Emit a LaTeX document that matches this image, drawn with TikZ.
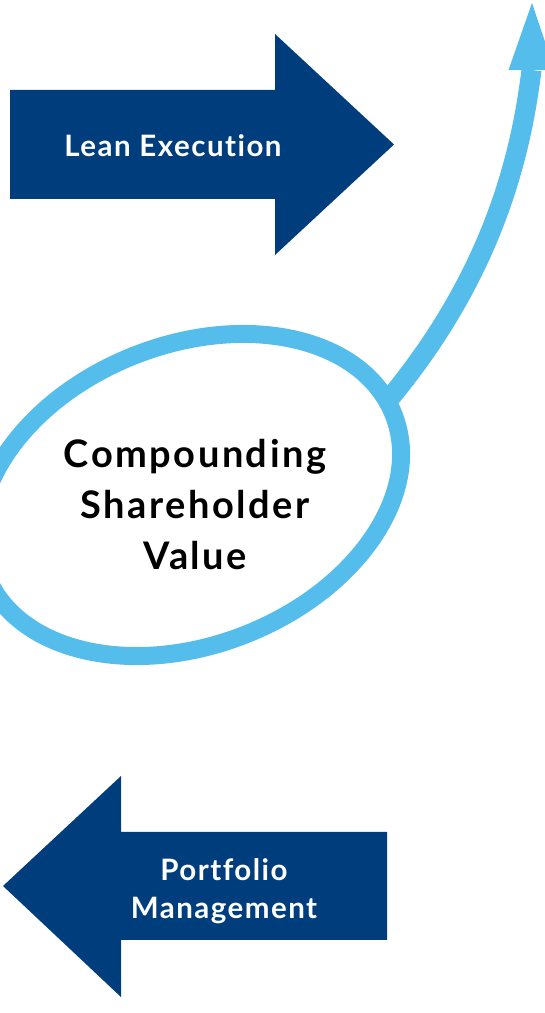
\documentclass[tikz,border=0pt]{standalone}
\usepackage{fontspec}
\setmainfont{Lato}[Ligatures=NoCommon]
\newfontfamily\labelfont{Lato}[Ligatures=NoCommon,LetterSpace=5]
\newfontfamily\corefont{Lato}[Ligatures=NoCommon,LetterSpace=6.5]
\usetikzlibrary{shapes.geometric}
\definecolor{navy}{HTML}{003D7C}
\definecolor{sky}{HTML}{55BDEC}
\begin{document}
\begin{tikzpicture}[x=1pt,y=1pt,
  bigarrow/.style={fill=navy,draw=none},
  arrowlabel/.style={text=white,font=\labelfont\bfseries\fontsize{29.5}{38}\selectfont,align=center,inner sep=0pt},
  loop/.style={ellipse,draw=sky,line width=18pt,inner sep=0pt,outer sep=0pt},
  growth/.style={draw=sky,line width=20pt},
  core/.style={text=black,font=\corefont\bfseries\fontsize{38}{51}\selectfont,align=center,inner sep=0pt}]
\useasboundingbox (0,0) rectangle (545,1013);

% right-pointing block arrow
\fill[bigarrow] (10,923) -- (275,923) -- (275,979) -- (394,868.5)
  -- (275,758) -- (275,814) -- (10,814) -- cycle;
\node[arrowlabel] (lean) at (173,867) {Lean Execution};

% left-pointing block arrow
\fill[bigarrow] (387,181) -- (121,181) -- (121,237) -- (3,127)
  -- (121,16) -- (121,73) -- (387,73) -- cycle;
\node[arrowlabel] (port) at (224,122) {Portfolio\\Management};

% value loop with rising arrow
\node[loop,rotate=21.4,minimum width=437.8pt,minimum height=300.4pt] (ell) at (190,518) {};
\node[core] (value) at (195,508) {Compounding\\Shareholder\\Value};

\coordinate (start) at (ell.4);
\coordinate (hb) at (531.5,943);
\coordinate (tip) at (532,1010);
\draw[growth] (start) .. controls (493,738) and (521,858) .. (hb);
\fill[sky] ([xshift=-23pt]hb) -- ([xshift=23pt]hb) -- (tip) -- cycle;
\end{tikzpicture}
\end{document}
